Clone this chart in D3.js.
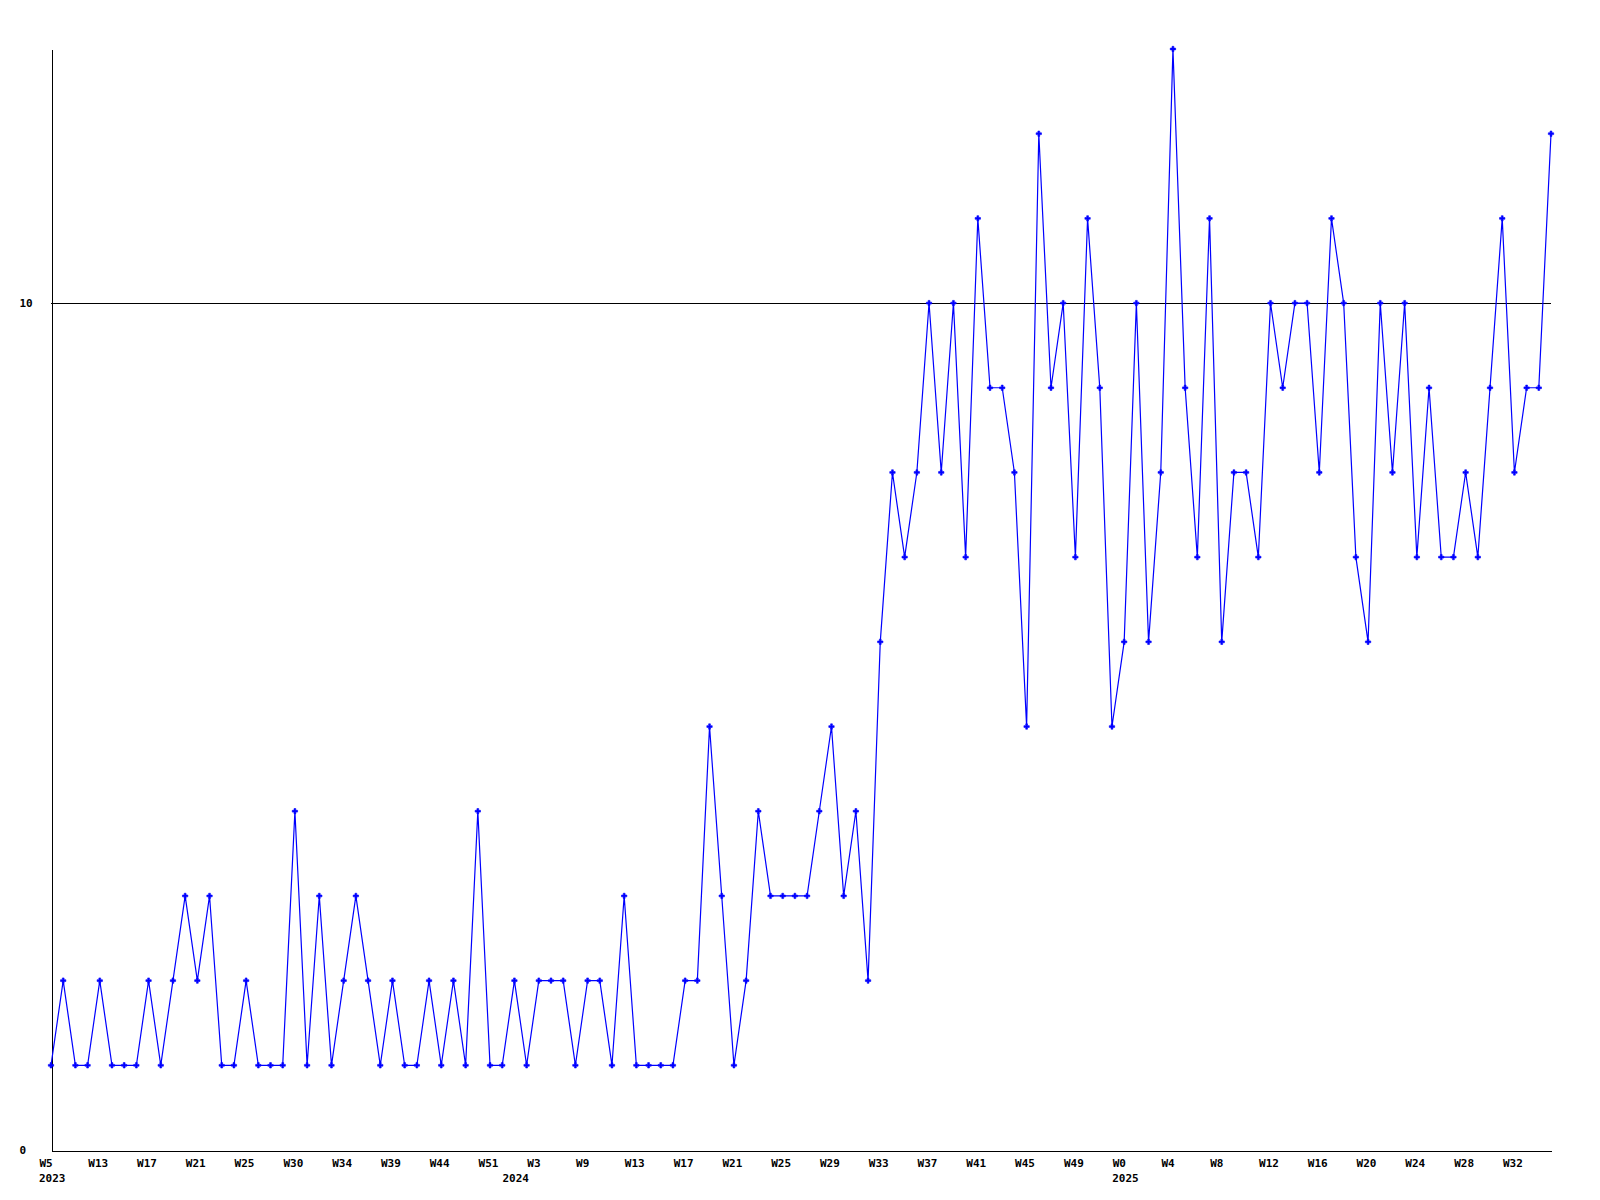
<!DOCTYPE html>
<html>
<head>
<meta charset="utf-8">
<script src="https://cdn.jsdelivr.net/npm/d3@7"></script>
<style>
  html, body { margin: 0; padding: 0; background: #ffffff; }
  svg { display: block; }
  text { font-family: "DejaVu Sans Mono", "Liberation Mono", monospace; font-weight: bold; font-size: 11px; fill: #000; }
</style>
</head>
<body>
<script>
// ---- data ----
const values = [
  1,2,1,1,2,1,1,1,2,1,2,3,2,3,1,1,2,1,1,1,
  4,1,3,1,2,3,2,1,2,1,1,2,1,2,1,4,1,1,2,1,
  2,2,2,1,2,2,1,3,1,1,1,1,2,2,5,3,1,2,4,3,
  3,3,3,4,5,3,4,2,6,8,7,8,10,8,10,7,11,9,9,8,
  5,12,9,10,7,11,9,5,6,10,6,8,13,9,7,11,6,8,8,7,
  10,9,10,10,8,11,10,7,6,10,8,10,7,9,7,7,8,7,9,11,
  8,9,9,12
];
const weekTickLabels = ["W5","W13","W17","W21","W25","W30","W34","W39","W44","W51","W3","W9","W13","W17","W21","W25","W29","W33","W37","W41","W45","W49","W0","W4","W8","W12","W16","W20","W24","W28","W32"];
const tickEvery = 4;
const yearLabels = ["2023","2024","2025"];
const yearStartIndex = [0, 38, 88];
const yTicks = [0, 10];
const yMax = 13;

// ---- chart ----
const W = 1600, H = 1200;
const mLeft = 51, mRight = 1551, mTop = 49, mBottom = 1150;

const svg = d3.select("body").append("svg").attr("width", W).attr("height", H);

const x = d3.scaleLinear().domain([0, values.length - 1]).range([mLeft, mRight]);
const y = d3.scaleLinear().domain([0, yMax]).range([mBottom, mTop]);

const fontStyle = sel => sel
  .style("font-family", '"DejaVu Sans Mono", monospace')
  .style("font-weight", "bold").style("font-size", "11px");

// gridline at 10
svg.append("g").selectAll("line").data(yTicks.filter(t => t > 0)).join("line")
  .attr("x1", mLeft).attr("x2", mRight)
  .attr("y1", d => Math.round(y(d)) + 0.5).attr("y2", d => Math.round(y(d)) + 0.5)
  .attr("stroke", "#000").attr("stroke-width", 1).attr("shape-rendering", "crispEdges");

// x axis
const tickIdx = weekTickLabels.map((_, i) => i * tickEvery);
const xAxis = d3.axisBottom(x).tickValues(tickIdx).tickSize(0)
  .tickFormat((d, i) => weekTickLabels[i]);
const gx = svg.append("g").attr("transform", `translate(0,${mBottom + 0.5})`).call(xAxis);
gx.select(".domain").attr("stroke", "#000").attr("shape-rendering", "crispEdges");
gx.selectAll("text").attr("text-anchor", "start").attr("x", -12).attr("y", 9).attr("dy", "0.71em").call(fontStyle);

// year labels
svg.append("g").selectAll("text").data(yearLabels).join("text")
  .attr("x", (d, i) => x(yearStartIndex[i]) - 12)
  .attr("y", mBottom + 32)
  .text(d => d);

// y axis
const yAxis = d3.axisLeft(y).tickValues(yTicks).tickSize(0).tickFormat(d3.format("d"));
const gy = svg.append("g").attr("transform", `translate(${mLeft + 0.5},0)`).call(yAxis);
gy.select(".domain").attr("stroke", "#000").attr("shape-rendering", "crispEdges");
gy.selectAll("text").attr("text-anchor", "start").attr("x", 19 - mLeft).attr("dy", "0.32em").call(fontStyle);

// data line
const line = d3.line().x((d, i) => x(i)).y(d => y(d));
svg.append("path").datum(values)
  .attr("d", line).attr("fill", "none").attr("stroke", "#0000ff").attr("stroke-width", 1.2);

// markers (small crosses like the reference)
const sym = d3.symbol().type(d3.symbolCross).size(16);
svg.append("g").selectAll("path").data(values).join("path")
  .attr("transform", (d, i) => `translate(${x(i)},${y(d)})`)
  .attr("d", sym).attr("fill", "#0000ff").attr("stroke", "#0000ff").attr("stroke-width", 0.6);
</script>
</body>
</html>
